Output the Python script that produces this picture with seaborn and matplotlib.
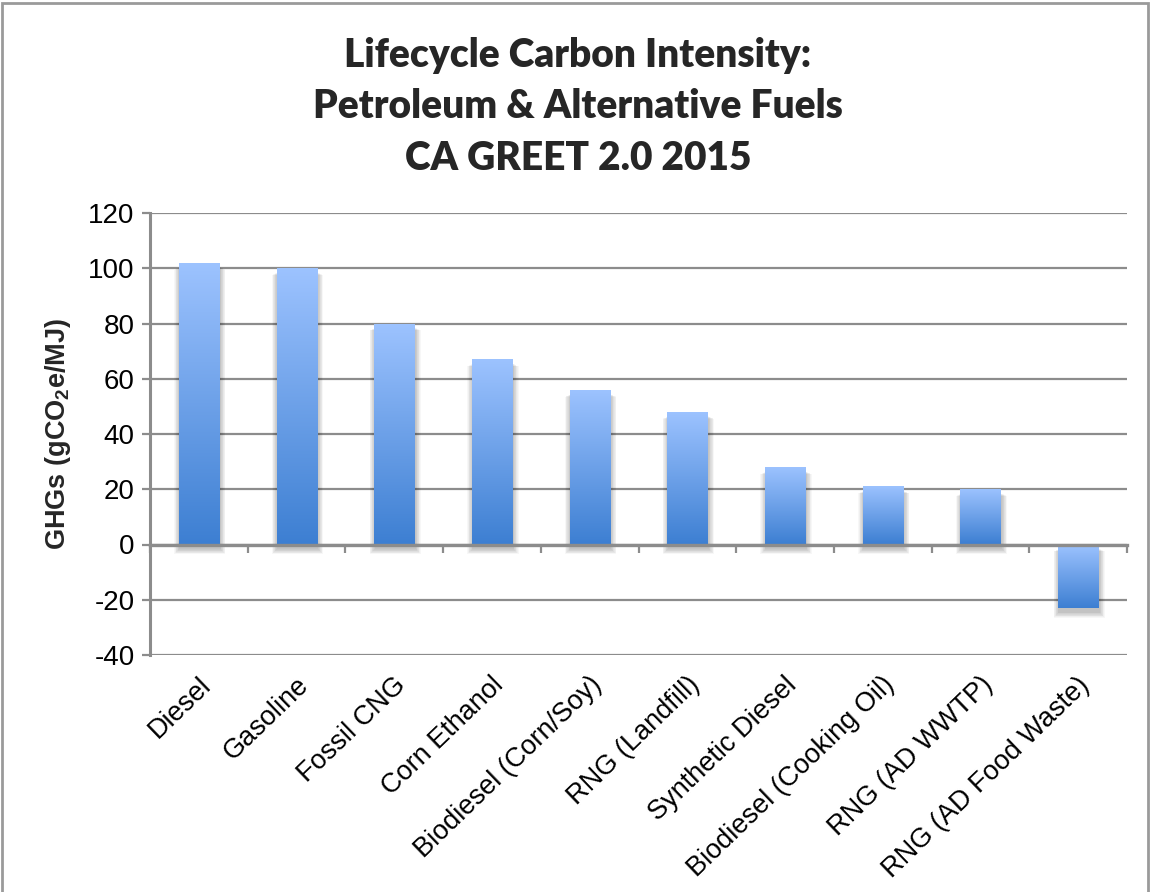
import numpy as np
import pandas as pd
import matplotlib
matplotlib.use("Agg")
import matplotlib.pyplot as plt
import matplotlib.transforms as mtransforms
from matplotlib.patches import Rectangle
from matplotlib.colors import to_rgba
import seaborn as sns

# Lifecycle carbon intensity by fuel pathway (gCO2e/MJ)
fuels = [
    "Diesel",
    "Gasoline",
    "Fossil CNG",
    "Corn Ethanol",
    "Biodiesel (Corn/Soy)",
    "RNG (Landfill)",
    "Synthetic Diesel",
    "Biodiesel (Cooking Oil)",
    "RNG (AD WWTP)",
    "RNG (AD Food Waste)",
]
carbon_intensity = [102, 100, 80, 67, 56, 48, 28, 21, 20, -23]
y_ticks = [-40, -20, 0, 20, 40, 60, 80, 100, 120]

title_lines = [
    "Lifecycle Carbon Intensity:",
    "Petroleum & Alternative Fuels",
    "CA GREET 2.0 2015",
]

sns.set_theme(style="white")
plt.rcParams["font.family"] = ["Liberation Sans", "DejaVu Sans"]
plt.rcParams["mathtext.fontset"] = "custom"
plt.rcParams["mathtext.rm"] = "Liberation Sans:bold"
plt.rcParams["mathtext.default"] = "rm"

GRID = "#8c8c8c"
TOP_BLUE = "#9dc3ff"
BOTTOM_BLUE = "#3d7fd2"

W, H = 1151, 892
fig = plt.figure(figsize=(W / 100, H / 100), dpi=100)
fig.patch.set_facecolor("white")

ax_left, ax_right, ax_top, ax_bottom = 150, 1127, 213, 655
ax = fig.add_axes([ax_left / W, 1 - ax_bottom / H,
                   (ax_right - ax_left) / W, (ax_bottom - ax_top) / H])

df = pd.DataFrame({"fuel": fuels, "ci": carbon_intensity})
sns.barplot(data=df, x="fuel", y="ci", ax=ax, width=0.41,
            color=TOP_BLUE, saturation=1, edgecolor="none", linewidth=0,
            errorbar=None)

ax.set_xlim(-0.5, len(fuels) - 0.5)
ax.set_ylim(y_ticks[0], y_ticks[-1])

# data units per pixel, used for the soft drop shadow
px_x = (len(fuels)) / (ax_right - ax_left)
px_y = (y_ticks[-1] - y_ticks[0]) / (ax_bottom - ax_top)

n_grad = 256
top_rgb = np.array(to_rgba(TOP_BLUE))
bot_rgb = np.array(to_rgba(BOTTOM_BLUE))
grad = np.linspace(0, 1, n_grad)[:, None, None]
grad_img = top_rgb[None, None, :] * (1 - grad) + bot_rgb[None, None, :] * grad

for patch in list(ax.patches):
    x0, y0 = patch.get_x(), patch.get_y()
    w, h = patch.get_width(), patch.get_height()
    lo, hi = min(y0, y0 + h), max(y0, y0 + h)
    # soft shadow below and around the bar
    shadow_tr = mtransforms.offset_copy(ax.transData, fig=fig, x=1, y=-4, units="dots")
    for k in range(1, 9):
        ax.add_patch(Rectangle((x0 - k * px_x * 0.7, lo - k * px_y * 0.7),
                               w + 2 * k * px_x * 0.7, (hi - lo) + k * px_y * 0.7 * 0.5,
                               transform=shadow_tr, facecolor="black",
                               alpha=0.03, edgecolor="none", zorder=1.5))
    patch.set_zorder(1.8)
    im = ax.imshow(grad_img, extent=[x0, x0 + w, lo, hi], aspect="auto",
                   origin="upper", zorder=2, interpolation="bilinear")
    im.set_clip_path(patch)

ax.set_xlim(-0.5, len(fuels) - 0.5)
ax.set_ylim(y_ticks[0], y_ticks[-1])
ax.set_aspect("auto")

# horizontal gridlines
ax.set_yticks(y_ticks)
ax.set_yticklabels([str(v) for v in y_ticks])
ax.yaxis.grid(True, color=GRID, linewidth=1.6)
ax.xaxis.grid(False)
ax.set_axisbelow(True)

for side in ["top", "right"]:
    ax.spines[side].set_visible(False)
ax.spines["left"].set_color(GRID)
ax.spines["left"].set_linewidth(2.2)
ax.spines["bottom"].set_position(("data", 0))
ax.spines["bottom"].set_color(GRID)
ax.spines["bottom"].set_linewidth(2.4)
ax.spines["bottom"].set_zorder(3)

ax.tick_params(axis="y", direction="out", length=6, width=1.6, color=GRID,
               labelsize=20, pad=5, labelcolor="black", left=True)
ax.set_xticks(np.arange(-0.5, len(fuels), 1))
ax.set_xticklabels([])
ax.tick_params(axis="x", direction="out", length=6, width=1.6, color=GRID,
               bottom=True)
ax.set_xlabel("")
ax.set_ylabel("")

# category labels below the plot, rotated 45 degrees
lab_tr = mtransforms.offset_copy(
    mtransforms.blended_transform_factory(ax.transData, ax.transAxes),
    fig=fig, x=-1, y=-17, units="dots")
for i, name in enumerate(fuels):
    ax.text(i, 0, name, transform=lab_tr, rotation=44, rotation_mode="anchor",
            ha="right", va="top", fontsize=19.5, color="black")

fig.text(58 / W, 1 - 434 / H, r"GHGs (gCO$_2$e/MJ)", rotation=90,
         ha="center", va="center", fontsize=19.5, fontweight="bold")

for j, line in enumerate(title_lines):
    fig.text(578 / W, 1 - (55 + 51.5 * j) / H, line, ha="center", va="center",
             fontsize=28, fontweight="heavy", family=["Lato", "DejaVu Sans"])

fig.add_artist(Rectangle((2 / W, -0.01), 1146 / W, 1 - 3 / H + 0.01,
                         transform=fig.transFigure, fill=False,
                         edgecolor="#9a9a9a", linewidth=2))

fig.savefig("out.png", dpi=100, facecolor="white")
